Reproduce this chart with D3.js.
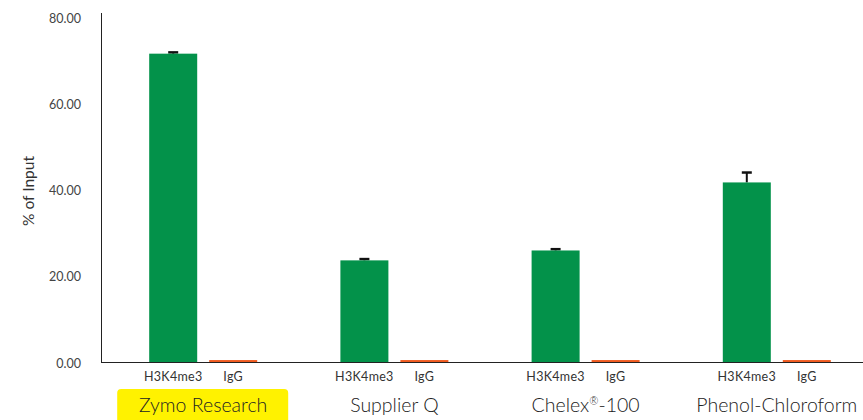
<!DOCTYPE html>
<html><head><meta charset="utf-8">
<script src="https://cdn.jsdelivr.net/npm/d3@7"></script>
<style>body{margin:0;background:#fff}svg{display:block}</style>
</head><body>
<script>
const groups = ["Zymo Research", "Supplier Q", "Chelex®-100", "Phenol-Chloroform"];
const series = ["H3K4me3", "IgG"];
const h3k4me3 = [71.6, 23.6, 25.9, 41.7];
const h3k4me3Err = [0.3, 0.3, 0.3, 2.3];
const igg = [0.45, 0.45, 0.45, 0.45];
const yTicks = [0, 20, 40, 60, 80];
const highlighted = "Zymo Research";

const W = 863, H = 420;
const svg = d3.select("body").append("svg").attr("width", W).attr("height", H);
const font = "Lato, 'Noto Sans', sans-serif";

const y = d3.scaleLinear().domain([0, 80]).range([362, 17.5]);
const x = d3.scaleBand().domain(groups).range([107.6, 872.4]).paddingInner(0).paddingOuter(0);
const xs = d3.scaleBand().domain(series).range([-54, 54]).paddingInner(0.2);

const colors = {"H3K4me3": "#03924a", "IgG": "#f05a1e"};

const data = [];
groups.forEach((g, i) => {
  data.push({g, s: "H3K4me3", v: h3k4me3[i], e: h3k4me3Err[i]});
  data.push({g, s: "IgG", v: igg[i], e: 0});
});
const cx = d => x(d.g) + x.bandwidth() / 2 + xs(d.s);

// axes lines
svg.append("line").attr("x1", 101.5).attr("x2", 101.5).attr("y1", 13).attr("y2", 363)
  .attr("stroke", "#222").attr("stroke-width", 1);
svg.append("line").attr("x1", 101).attr("x2", W).attr("y1", 362.5).attr("y2", 362.5)
  .attr("stroke", "#222").attr("stroke-width", 1);

// error bars (behind bars)
const eb = svg.append("g");
data.filter(d => d.e > 0).forEach(d => {
  const mx = cx(d) + xs.bandwidth() / 2;
  eb.append("line").attr("x1", mx).attr("x2", mx).attr("y1", y(d.v + d.e)).attr("y2", y(d.v))
    .attr("stroke", "#111").attr("stroke-width", 2);
  eb.append("line").attr("x1", mx - 5).attr("x2", mx + 5).attr("y1", y(d.v + d.e)).attr("y2", y(d.v + d.e))
    .attr("stroke", "#111").attr("stroke-width", 2.5);
});

svg.append("g").selectAll("rect").data(data).join("rect")
  .attr("x", cx).attr("width", xs.bandwidth())
  .attr("y", d => y(d.v)).attr("height", d => y(0) - y(d.v))
  .attr("fill", d => colors[d.s]);

const yAxis = svg.append("g").attr("transform", "translate(101,0)")
  .call(d3.axisLeft(y).tickValues(yTicks).tickSize(0).tickPadding(20).tickFormat(d3.format(".2f")));
yAxis.select(".domain").remove();
yAxis.selectAll("text").attr("font-family", font).attr("font-size", 12.5).attr("fill", "#444")
  .attr("dy", "0.4em");

svg.append("text").attr("transform", "translate(34,191) rotate(-90)")
  .attr("text-anchor", "middle").attr("font-family", font).attr("font-size", 15.5).attr("fill", "#333")
  .text("% of Input");

// series labels
svg.append("g").selectAll("text").data(data).join("text")
  .attr("x", d => cx(d) + xs.bandwidth() / 2).attr("y", 381)
  .attr("text-anchor", "middle").attr("font-family", font).attr("font-size", 12.5)
  .attr("letter-spacing", 0.3).attr("fill", "#333")
  .text(d => d.s);

// group labels
const gl = svg.append("g");
gl.selectAll("rect").data(groups.filter(g => g === highlighted)).join("rect")
  .attr("x", g => x(g) + x.bandwidth() / 2 - 86).attr("y", 389).attr("width", 171).attr("height", 40)
  .attr("rx", 4).attr("fill", "#fff200");
gl.selectAll("text").data(groups).join("text")
  .attr("x", g => x(g) + x.bandwidth() / 2).attr("y", 412)
  .attr("text-anchor", "middle").attr("font-family", font).attr("font-size", 19.5)
  .attr("font-weight", 300).attr("fill", "#222")
  .each(function(g) {
    const parts = g.split("®");
    const t = d3.select(this);
    parts.forEach((p, i) => {
      if (i > 0) t.append("tspan").attr("font-size", 11).attr("dy", -7).text("®");
      t.append("tspan").attr("dy", i > 0 ? 7 : null).text(p);
    });
  });
</script>
</body></html>
